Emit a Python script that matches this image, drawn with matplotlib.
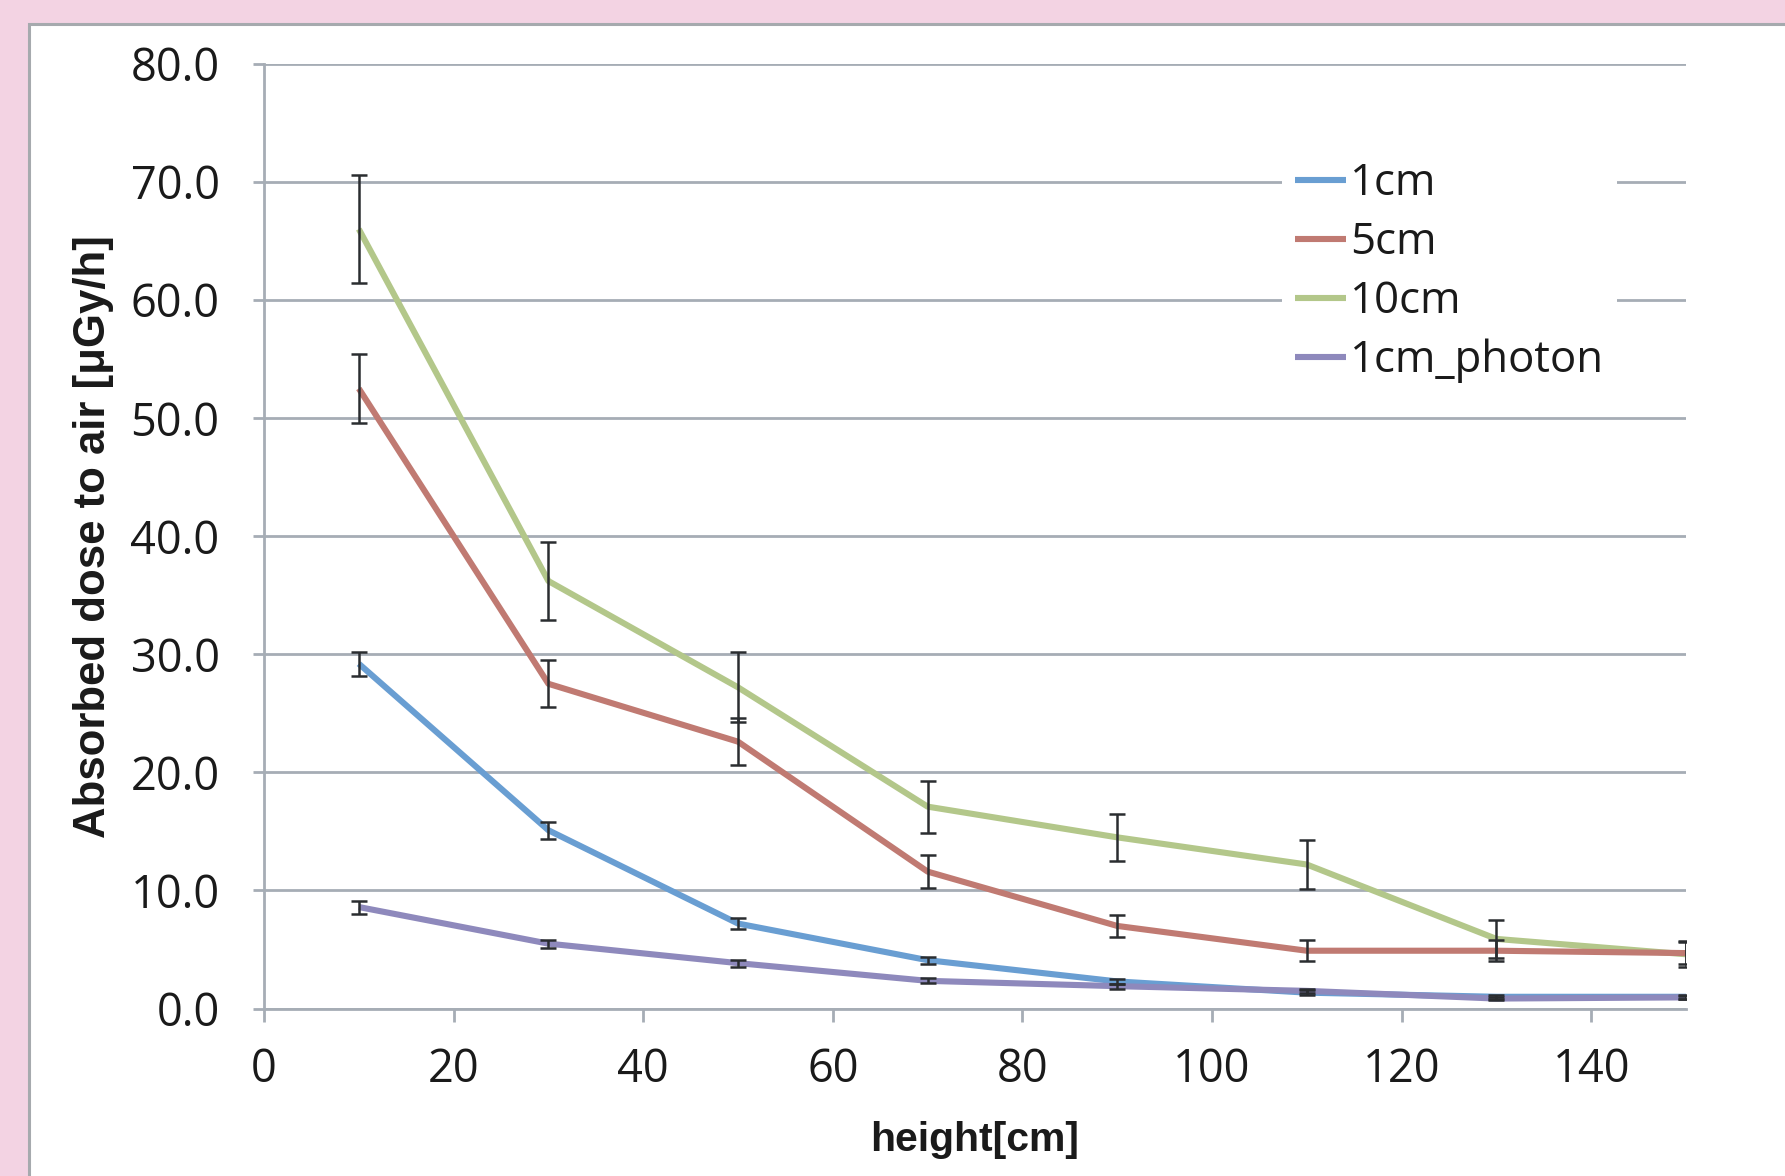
import matplotlib
matplotlib.use("Agg")
import matplotlib.pyplot as plt
from matplotlib.patches import Rectangle

# ---- data ----
heights = [10, 30, 50, 70, 90, 110, 130, 150]
series_names = ["1cm", "5cm", "10cm", "1cm_photon"]
dose_1cm = [29.2, 15.1, 7.2, 4.1, 2.3, 1.35, 1.0, 1.0]
err_1cm = [1.0, 0.7, 0.5, 0.3, 0.2, 0.2, 0.15, 0.15]
dose_5cm = [52.5, 27.5, 22.6, 11.6, 7.0, 4.9, 4.9, 4.7]
err_5cm = [2.9, 2.0, 2.0, 1.4, 0.95, 0.9, 0.9, 0.9]
dose_10cm = [66.0, 36.2, 27.2, 17.1, 14.5, 12.2, 5.9, 4.6]
err_10cm = [4.6, 3.3, 2.95, 2.2, 2.0, 2.05, 1.6, 1.1]
dose_photon = [8.6, 5.5, 3.85, 2.35, 1.9, 1.5, 0.85, 0.95]
err_photon = [0.55, 0.35, 0.3, 0.2, 0.2, 0.2, 0.1, 0.1]
x_ticks = [0, 20, 40, 60, 80, 100, 120, 140]
y_ticks = [0, 10, 20, 30, 40, 50, 60, 70, 80]

colors = ["#699ED2", "#C07A72", "#B3C78A", "#8E89BC"]
grid_c = "#A6ADB5"
txt_c = "#1A1A1A"

tick_font = ["Open Sans", "DejaVu Sans"]
label_font = ["Liberation Sans", "DejaVu Sans"]

fig = plt.figure(figsize=(17.85, 11.76), dpi=100)
fig.patch.set_facecolor("#F3D3E3")
# white panel with gray border
panel = Rectangle((29 / 1785, -0.01), 1.02, 1 - 24 / 1176 + 0.01,
                  transform=fig.transFigure, facecolor="white",
                  edgecolor="#A6AAAE", linewidth=2.2, zorder=-10)
fig.patches.append(panel)

ax = fig.add_axes([264 / 1785, 1 - 1008.6 / 1176, (1686 - 264) / 1785,
                   (1008.6 - 63.7) / 1176])
ax.set_zorder(5)
ax.set_facecolor("none")

all_dose = [dose_1cm, dose_5cm, dose_10cm, dose_photon]
all_err = [err_1cm, err_5cm, err_10cm, err_photon]
order = [2, 1, 0, 3]
handles = {}
for i in order:
    ln, = ax.plot(heights, all_dose[i], color=colors[i], lw=4.4,
                  solid_capstyle="butt", solid_joinstyle="round", zorder=3,
                  label=series_names[i])
    ax.errorbar(heights, all_dose[i], yerr=all_err[i], fmt="none",
                ecolor="#2A2D30", elinewidth=1.8, capsize=5.5, capthick=1.8,
                zorder=4)
    handles[i] = ln

ax.set_xlim(0, 150)
ax.set_ylim(0, 80)
ax.set_xticks(x_ticks)
ax.set_yticks(y_ticks)
ax.set_yticklabels([f"{v:.1f}" for v in y_ticks])
ax.set_xticklabels([str(v) for v in x_ticks])

for lab in ax.get_xticklabels() + ax.get_yticklabels():
    lab.set_fontfamily(tick_font)
    lab.set_fontsize(32.5)
    lab.set_color(txt_c)

ax.grid(axis="y", color=grid_c, lw=2.0, zorder=1)
ax.set_axisbelow(True)
for s in ["top", "right"]:
    ax.spines[s].set_visible(False)
for s in ["left", "bottom"]:
    ax.spines[s].set_color(grid_c)
    ax.spines[s].set_linewidth(2.0)
ax.tick_params(axis="y", direction="out", length=8, width=2.0, color=grid_c,
               pad=24)
ax.tick_params(axis="x", direction="out", length=9, width=2.0, color=grid_c,
               pad=19)

ax.set_ylabel("Absorbed dose to air [μGy/h]", fontsize=31.5, fontweight="bold",
              family=label_font, color=txt_c, labelpad=12)
ax.set_xlabel("height[cm]", fontsize=29.5, fontweight="bold",
              family=label_font, color=txt_c, labelpad=20)

leg = ax.legend([handles[i] for i in range(4)], series_names,
                loc="upper left", bbox_to_anchor=(0.716, 0.91),
                frameon=True, fancybox=False, framealpha=1.0,
                facecolor="white", edgecolor="none",
                prop={"family": tick_font, "size": 31.5},
                handlelength=1.15, handletextpad=0.1, labelspacing=0.33,
                borderpad=0.3, borderaxespad=0)
for t in leg.get_texts():
    t.set_color(txt_c)
leg.set_zorder(2)

fig.savefig("out.png", dpi=100, facecolor=fig.get_facecolor())
